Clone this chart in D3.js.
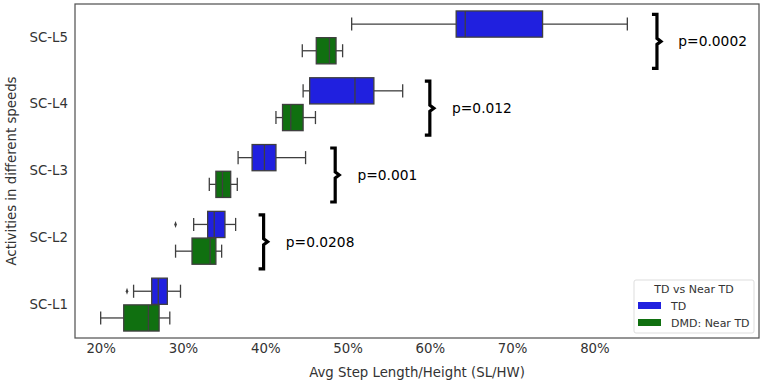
<!DOCTYPE html>
<html>
<head>
<meta charset="utf-8">
<script src="https://cdn.jsdelivr.net/npm/d3@7"></script>
<style>
  body { margin: 0; background: #fff; }
  text { font-family: "DejaVu Sans", sans-serif; }
</style>
</head>
<body>
<svg id="chart"></svg>
<script>
// categories top to bottom
const categories = ["SC-L5", "SC-L4", "SC-L3", "SC-L2", "SC-L1"];
const groups = ["TD", "DMD: Near TD"];

// [whisker low, q1, median, q3, whisker high] per category (fraction)
const tdBoxes = [
    [0.505, 0.632, 0.643, 0.737, 0.840],
    [0.446, 0.454, 0.509, 0.532, 0.567],
    [0.367, 0.384, 0.399, 0.413, 0.449],
    [0.313, 0.330, 0.338, 0.351, 0.364],
    [0.240, 0.262, 0.270, 0.281, 0.297]
];
const dmdBoxes = [
    [0.445, 0.462, 0.478, 0.486, 0.494],
    [0.413, 0.421, 0.431, 0.446, 0.461],
    [0.332, 0.340, 0.348, 0.358, 0.366],
    [0.291, 0.311, 0.333, 0.340, 0.347],
    [0.200, 0.228, 0.258, 0.271, 0.284]
];
const tdOutliers = [[], [], [], [0.291], [0.232]];
const dmdOutliers = [[], [], [], [], []];

// p-value annotations: brace x, text x (data units)
const pLabels = ["p=0.0002", "p=0.012", "p=0.001", "p=0.0208", null];
const braceX = [0.876, 0.600, 0.485, 0.398, null];
const pTextX = [0.902, 0.627, 0.512, 0.425, null];

const xTicks = [0.2, 0.3, 0.4, 0.5, 0.6, 0.7, 0.8];
const colors = ["#2020df", "#107010"];

const W = 765, H = 385;
const margin = { top: 4, right: 6, bottom: 47, left: 75 };

const svg = d3.select("#chart").attr("width", W).attr("height", H);

const x = d3.scaleLinear()
    .domain([0.1688, 1.0])
    .range([margin.left, W - margin.right]);

const y = d3.scaleBand()
    .domain(categories)
    .range([margin.top, H - margin.bottom]);

const bw = y.bandwidth();
const boxH = bw * 0.4 * 0.98;
const lineColor = "#3f3f3f";
const fs = "13.3px";

// axes
svg.append("g")
    .attr("transform", `translate(0,${H - margin.bottom})`)
    .call(d3.axisBottom(x).tickValues(xTicks).tickFormat(d3.format(".0%")).tickSize(0).tickPadding(6))
    .call(g => g.select(".domain").remove())
    .selectAll("text")
    .style("font-size", fs)
    .attr("fill", "#333");

svg.append("g")
    .attr("transform", `translate(${margin.left},0)`)
    .call(d3.axisLeft(y).tickSize(0).tickPadding(7))
    .call(g => g.select(".domain").remove())
    .selectAll("text")
    .style("font-size", fs)
    .attr("fill", "#333");

svg.append("text")
    .attr("x", (margin.left + W - margin.right) / 2)
    .attr("y", 377)
    .attr("text-anchor", "middle")
    .style("font-size", fs)
    .attr("fill", "#333")
    .text("Avg Step Length/Height (SL/HW)");

svg.append("text")
    .attr("transform", `translate(16,${(margin.top + H - margin.bottom) / 2}) rotate(-90)`)
    .attr("text-anchor", "middle")
    .style("font-size", fs)
    .attr("fill", "#333")
    .text("Activities in different speeds");

// boxes
function drawBoxes(boxes, outliers, gi) {
    const off = (gi === 0 ? -0.2 : 0.2) * bw;
    boxes.forEach((b, i) => {
        const cy = y(categories[i]) + bw / 2 + off;
        const g = svg.append("g");
        const cap = boxH / 2;
        // whiskers
        g.append("line").attr("x1", x(b[0])).attr("x2", x(b[1])).attr("y1", cy).attr("y2", cy);
        g.append("line").attr("x1", x(b[3])).attr("x2", x(b[4])).attr("y1", cy).attr("y2", cy);
        g.append("line").attr("x1", x(b[0])).attr("x2", x(b[0])).attr("y1", cy - cap / 2).attr("y2", cy + cap / 2);
        g.append("line").attr("x1", x(b[4])).attr("x2", x(b[4])).attr("y1", cy - cap / 2).attr("y2", cy + cap / 2);
        g.selectAll("line").attr("stroke", lineColor).attr("stroke-width", 1.3);
        g.append("rect")
            .attr("x", x(b[1])).attr("width", x(b[3]) - x(b[1]))
            .attr("y", cy - boxH / 2).attr("height", boxH)
            .attr("fill", colors[gi])
            .attr("stroke", lineColor).attr("stroke-width", 1.3);
        g.append("line")
            .attr("x1", x(b[2])).attr("x2", x(b[2]))
            .attr("y1", cy - boxH / 2).attr("y2", cy + boxH / 2)
            .attr("stroke", lineColor).attr("stroke-width", 1.3);
        outliers[i].forEach(o => {
            g.append("path")
                .attr("d", d3.symbol(d3.symbolDiamond, 12)())
                .attr("transform", `translate(${x(o)},${cy}) scale(0.7,1.1)`)
                .attr("fill", lineColor);
        });
    });
}
drawBoxes(tdBoxes, tdOutliers, 0);
drawBoxes(dmdBoxes, dmdOutliers, 1);

// braces + p-values
categories.forEach((c, i) => {
    if (!pLabels[i]) return;
    const cy = y(c) + bw / 2 + 4;
    const bx = x(braceX[i]);
    const h = 27;
    svg.append("path")
        .attr("d", `M${bx - 5},${cy - h} L${bx},${cy - h} L${bx},${cy - 3} L${bx + 4},${cy} L${bx},${cy + 3} L${bx},${cy + h} L${bx - 5},${cy + h}`)
        .attr("fill", "none")
        .attr("stroke", "#000")
        .attr("stroke-width", 3.2)
        .attr("stroke-linejoin", "miter");
    svg.append("text")
        .attr("x", x(pTextX[i]))
        .attr("y", cy)
        .attr("dy", "0.35em")
        .style("font-size", "13.8px")
        .attr("fill", "#000")
        .text(pLabels[i]);
});

// frame
svg.append("rect")
    .attr("x", margin.left).attr("y", margin.top)
    .attr("width", W - margin.left - margin.right)
    .attr("height", H - margin.top - margin.bottom)
    .attr("fill", "none")
    .attr("stroke", "#555")
    .attr("stroke-width", 1.25);

// legend
const lg = svg.append("g").attr("transform", "translate(634,280)");
lg.append("rect")
    .attr("width", 120).attr("height", 53).attr("rx", 2)
    .attr("fill", "#fff").attr("stroke", "#ddd");
lg.append("text")
    .attr("x", 60).attr("y", 13)
    .attr("text-anchor", "middle")
    .style("font-size", "11px")
    .attr("fill", "#333")
    .text("TD vs Near TD");
groups.forEach((gname, i) => {
    const ry = 22 + i * 17;
    lg.append("rect")
        .attr("x", 4).attr("y", ry)
        .attr("width", 23).attr("height", 7)
        .attr("fill", colors[i]);
    lg.append("text")
        .attr("x", 37).attr("y", ry + 4)
        .attr("dy", "0.35em")
        .style("font-size", "11px")
        .attr("fill", "#333")
        .text(gname);
});
</script>
</body>
</html>
